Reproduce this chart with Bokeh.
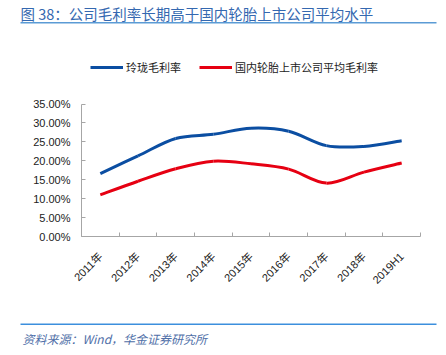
from math import pi
from bokeh.plotting import figure
from bokeh.layouts import column
from bokeh.models import (FixedTicker, PrintfTickFormatter, Label, BoxAnnotation,
                          Legend, LegendItem, Range1d)
from bokeh.embed import file_html
from bokeh.resources import INLINE

categories = ["2011年", "2012年", "2013年", "2014年", "2015年", "2016年", "2017年", "2018年", "2019H1"]
linglong = [16.6, 21.3, 25.9, 27.0, 28.6, 27.8, 24.0, 23.8, 25.3]
industry = [11.0, 14.6, 17.9, 19.9, 19.2, 17.8, 14.1, 17.0, 19.4]
y_ticks = [0, 5, 10, 15, 20, 25, 30, 35]
series_names = ["玲珑毛利率", "国内轮胎上市公司平均毛利率"]
title_text = "图 38：公司毛利率长期高于国内轮胎上市公司平均水平"
source_text = "资料来源：Wind，华金证券研究所"

W = 440
BLUE = "#0B4EA2"
RED = "#E60012"
CJK = "Noto Sans CJK SC"
LAT = "Liberation Sans, Noto Sans CJK SC"


def blank_panel(top, bottom):
    f = figure(width=W, height=bottom - top, output_backend="svg", toolbar_location=None,
               x_range=Range1d(0, W), y_range=Range1d(bottom, top),
               min_border=0, x_axis_location=None, y_axis_location=None,
               frame_align=False)
    f.outline_line_color = None
    f.xgrid.visible = False
    f.ygrid.visible = False
    return f

# ---------- header: title and rule ----------
HT, HB = 0, 40
head = blank_panel(HT, HB)
head.add_layout(Label(x=20, y=2.5, text=title_text, text_font=CJK, text_font_size="14.5px",
                      text_color="#3468B0", text_baseline="top", text_align="left"))
head.add_layout(BoxAnnotation(left=20, right=436, top=21.5, bottom=23,
                              fill_color="#5B9BD5", fill_alpha=1, line_alpha=0))

# ---------- main chart ----------
MT, MB = 40, 305
FRAME_TOP, AX_TOP, AX_BOT = 50, 103.5, 236
y_top = 35 * (AX_BOT - FRAME_TOP) / (AX_BOT - AX_TOP)
p = figure(width=W, height=MB - MT, output_backend="svg", toolbar_location=None,
           x_range=Range1d(0, len(categories)), y_range=Range1d(0, y_top),
           min_border_left=81, min_border_right=W - 420,
           min_border_top=FRAME_TOP - MT, min_border_bottom=MB - AX_BOT,
           frame_align=False)
p.outline_line_color = None
p.xgrid.visible = False
p.ygrid.visible = False

centers = [i + 0.5 for i in range(len(categories))]


def smooth(xs, ys):
    n = len(xs)
    out = {k: [] for k in ["x0", "y0", "x1", "y1", "cx0", "cy0", "cx1", "cy1"]}
    for i in range(n - 1):
        a = max(i - 1, 0)
        b = min(i + 2, n - 1)
        out["x0"].append(xs[i]); out["y0"].append(ys[i])
        out["x1"].append(xs[i + 1]); out["y1"].append(ys[i + 1])
        out["cx0"].append(xs[i] + (xs[i + 1] - xs[a]) / 6)
        out["cy0"].append(ys[i] + (ys[i + 1] - ys[a]) / 6)
        out["cx1"].append(xs[i + 1] - (xs[b] - xs[i]) / 6)
        out["cy1"].append(ys[i + 1] - (ys[b] - ys[i]) / 6)
    return out


rends = []
for vals, col in [(linglong, BLUE), (industry, RED)]:
    rends.append(p.bezier(line_color=col, line_width=3, **smooth(centers, vals)))

legend = Legend(items=[LegendItem(label=series_names[0], renderers=[rends[0]]),
                       LegendItem(label=series_names[1], renderers=[rends[1]])],
                orientation="horizontal", location=(9, AX_BOT - 75),
                glyph_width=33, glyph_height=14, label_height=14, label_standoff=3,
                spacing=18, padding=0, margin=0,
                border_line_color=None, background_fill_alpha=0,
                label_text_font=CJK, label_text_font_size="11px", label_text_color="#222222")
p.add_layout(legend, "center")

p.xaxis.ticker = FixedTicker(ticks=centers, minor_ticks=list(range(len(categories) + 1)))
p.xaxis.major_label_overrides = {c: lab for c, lab in zip(centers, categories)}
p.xaxis.major_label_orientation = pi / 4
p.xaxis.major_tick_line_color = None
p.xaxis.minor_tick_in = 4
p.xaxis.minor_tick_out = 0
p.xaxis.minor_tick_line_color = "#A6A6A6"
p.xaxis.axis_line_color = "#A6A6A6"
p.xaxis.major_label_text_font = LAT
p.xaxis.major_label_text_font_size = "11px"
p.xaxis.major_label_text_color = "#222222"
p.xaxis.major_label_standoff = 12

p.yaxis.ticker = FixedTicker(ticks=y_ticks)
p.yaxis.bounds = (0, 35)
p.yaxis.formatter = PrintfTickFormatter(format="%.2f%%")
p.yaxis.major_tick_in = 4
p.yaxis.major_tick_out = 0
p.yaxis.minor_tick_line_color = None
p.yaxis.major_tick_line_color = "#A6A6A6"
p.yaxis.axis_line_color = "#A6A6A6"
p.yaxis.major_label_text_font = LAT
p.yaxis.major_label_text_font_size = "11px"
p.yaxis.major_label_text_color = "#222222"
p.yaxis.major_label_standoff = 11

# ---------- footer: rule and source ----------
FT, FB = 305, 353
foot = blank_panel(FT, FB)
foot.add_layout(BoxAnnotation(left=20, right=436, top=323, bottom=324.5,
                              fill_color="#3C8FDD", fill_alpha=1, line_alpha=0))
foot.add_layout(Label(x=22, y=329, text=source_text, text_font=CJK, text_font_size="12px",
                      text_color="#4F6FA8", text_font_style="italic",
                      text_baseline="top", text_align="left"))

layout = column(head, p, foot, spacing=0)
open("out.html", "w").write(file_html(layout, INLINE))
